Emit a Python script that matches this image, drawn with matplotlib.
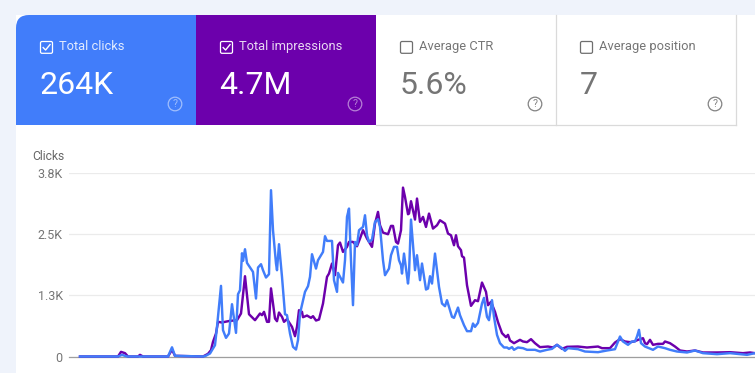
import matplotlib
matplotlib.use("Agg")
import matplotlib.pyplot as plt
from matplotlib.patches import Rectangle, FancyBboxPatch, Circle, PathPatch
from matplotlib.path import Path

plt.rcParams['font.family'] = ['Roboto', 'DejaVu Sans']

# x is a running index along the (unlabelled) time axis
clicks_t = [0, 38, 42, 47, 88, 92, 95, 123, 125, 130, 135, 137, 141, 143, 146, 149, 152, 156, 158, 160, 162, 163, 165, 167, 173, 176, 178, 181, 183, 186, 189, 191, 193, 196, 197, 199, 202, 205, 207, 210, 213, 216, 218, 220, 225, 228, 230, 232, 236, 238, 242, 243, 245, 247, 252, 254, 257, 258, 263, 265, 267, 269, 271, 273, 275, 277, 279, 283, 285, 287, 289, 292, 295, 298, 300, 303, 305, 309, 311, 314, 317, 319, 321, 322, 324, 328, 329, 331, 335, 337, 340, 342, 346, 348, 350, 352, 355, 359, 362, 365, 367, 372, 374, 378, 380, 384, 387, 391, 393, 395, 398, 402, 404, 407, 409, 412, 414, 417, 420, 424, 427, 429, 432, 434, 438, 443, 447, 455, 460, 467, 472, 477, 482, 485, 488, 498, 505, 518, 527, 535, 540, 543, 548, 552, 555, 557, 559, 561, 565, 573, 578, 585, 590, 597, 607, 615, 623, 637, 650, 667, 675]
clicks = [0, 0, 34, 0, 0, 190, 14, 0, 7, 62, 234, 612, 1459, 544, 385, 475, 1080, 488, 1286, 1369, 2132, 1975, 2215, 1933, 1747, 1197, 1837, 1906, 1782, 1631, 1700, 3434, 2608, 1920, 1782, 2319, 1645, 873, 853, 475, 199, 144, 337, 888, 1335, 1452, 1645, 2112, 1816, 1988, 2126, 2160, 2484, 2387, 2387, 1576, 1335, 1727, 1528, 1988, 2883, 3055, 1981, 1060, 2367, 2298, 2608, 2676, 2917, 2504, 2367, 2415, 2780, 2835, 2676, 1988, 1679, 1816, 2092, 2264, 2264, 1988, 1885, 1713, 2126, 1507, 1713, 2828, 1782, 2092, 1576, 1920, 1383, 1404, 1658, 1507, 2126, 1438, 1094, 1039, 1163, 819, 798, 1011, 853, 647, 523, 523, 681, 612, 695, 1094, 1211, 819, 750, 1163, 819, 447, 275, 186, 186, 158, 193, 138, 186, 172, 138, 138, 103, 138, 158, 241, 172, 117, 172, 151, 103, 89, 124, 151, 413, 310, 241, 310, 310, 413, 550, 275, 206, 138, 206, 172, 138, 103, 83, 124, 69, 48, 69, 34, 69]

# impressions as they sit on the shared chart height (own axis is cropped off)
impressions_t = [0, 38, 41, 45, 48, 58, 60, 63, 88, 92, 95, 123, 128, 131, 133, 136, 138, 142, 145, 150, 157, 161, 165, 169, 175, 180, 182, 184, 187, 189, 191, 193, 195, 197, 199, 202, 204, 207, 212, 215, 217, 219, 222, 223, 227, 231, 233, 236, 239, 243, 247, 249, 252, 255, 258, 260, 263, 267, 269, 273, 277, 280, 283, 287, 292, 295, 298, 300, 303, 308, 311, 313, 316, 318, 321, 323, 325, 328, 329, 331, 335, 337, 340, 343, 346, 349, 353, 357, 360, 365, 368, 371, 374, 376, 378, 381, 382, 384, 387, 391, 395, 398, 402, 406, 408, 411, 415, 418, 422, 426, 428, 430, 434, 440, 443, 447, 451, 455, 460, 468, 473, 477, 482, 487, 498, 507, 518, 522, 530, 535, 540, 545, 550, 554, 558, 563, 565, 567, 570, 573, 578, 583, 585, 590, 595, 600, 607, 615, 623, 637, 650, 663, 670, 675]
impressions = [0, 0, 96, 69, 0, 0, 34, 0, 0, 140, 14, 0, 55, 131, 303, 475, 716, 702, 716, 736, 750, 888, 1658, 873, 750, 888, 853, 922, 716, 716, 1407, 1094, 784, 729, 908, 819, 716, 771, 612, 420, 612, 956, 922, 812, 846, 798, 833, 743, 764, 1094, 1644, 1713, 1920, 1679, 2298, 2353, 2160, 2264, 2367, 2367, 2277, 2436, 2608, 2436, 2264, 2745, 2986, 2711, 2559, 2525, 2697, 2697, 2367, 2332, 2608, 3488, 3296, 2938, 2951, 3207, 2828, 3262, 2780, 2883, 2676, 2951, 2642, 2711, 2814, 2745, 2539, 2504, 2298, 2504, 2277, 2195, 2071, 2043, 1472, 1046, 1163, 1142, 1527, 1335, 1060, 1128, 922, 709, 482, 399, 447, 330, 275, 344, 310, 296, 358, 275, 193, 206, 186, 241, 158, 200, 206, 186, 206, 172, 172, 289, 358, 310, 296, 310, 344, 378, 275, 255, 344, 241, 261, 261, 310, 275, 206, 124, 103, 124, 83, 83, 89, 69, 83, 69]

y_ticks = [0, 1267, 2533, 3800]
y_labels = ['0', '1.3K', '2.5K', '3.8K']

card_titles = ['Total clicks', 'Total impressions', 'Average CTR', 'Average position']
card_values = ['264K', '4.7M', '5.6%', '7']
card_lefts = [16, 196, 376, 556]
card_colors = ['#417dfa', '#6c00ac', '#ffffff', '#ffffff']
card_checked = [True, True, False, False]

W, H = 755, 373
fig = plt.figure(figsize=(W / 100, H / 100), dpi=100, facecolor='#eff3fb')

# page chrome, drawn in pixel coordinates
bg = fig.add_axes([0, 0, 1, 1])
bg.set_xlim(0, W)
bg.set_ylim(H, 0)
bg.axis('off')
bg.add_patch(Rectangle((16, 15), W - 16, H - 15, fc='white', ec='none'))
bg.plot([376, 736], [124.5, 124.5], color='#dadada', lw=0.9)
bg.plot([555.5, 555.5], [15, 125], color='#dadada', lw=0.9)
bg.plot([735.5, 735.5], [15, 125], color='#dadada', lw=0.9)

for i in range(4):
    x0 = card_lefts[i]
    if i == 0:
        # only the top-left corner is rounded
        r = 13
        verts = [(x0, 125), (x0, 15 + r), (x0, 15), (x0 + r, 15), (x0 + 180, 15), (x0 + 180, 125), (x0, 125)]
        codes = [Path.MOVETO, Path.LINETO, Path.CURVE3, Path.CURVE3, Path.LINETO, Path.LINETO, Path.CLOSEPOLY]
        bg.add_patch(PathPatch(Path(verts, codes), fc=card_colors[i], ec='none'))
    elif i == 1:
        bg.add_patch(Rectangle((x0, 15), 180, 110, fc=card_colors[i], ec='none'))

    on = card_checked[i]
    text_col = '#ffffff' if on else '#757575'
    box_col = '#ffffff' if on else '#6f6f6f'
    bg.add_patch(FancyBboxPatch((x0 + 24.5, 41.5), 12, 11.8, boxstyle='round,pad=0,rounding_size=1.5',
                                fc='none', ec=box_col, lw=0.9))
    if on:
        bg.plot([x0 + 27.2, x0 + 29.6, x0 + 34], [47.6, 50, 44.6], color='#ffffff', lw=1.0)
    bg.text(x0 + 43, 46.8, card_titles[i], color=text_col, alpha=0.85 if on else 1,
            fontsize=9.25, va='center', ha='left')
    bg.text(x0 + 23.5, 94, card_values[i], color=text_col, fontsize=23, va='baseline', ha='left')
    bg.add_patch(Circle((x0 + 159, 104), 6.8, fc='none', ec=text_col, lw=0.9, alpha=0.5 if on else 0.9))
    bg.text(x0 + 159, 104.3, '?', color=text_col, alpha=0.5 if on else 0.9, fontsize=7.5,
            va='center', ha='center')

# chart
ax = fig.add_axes([69 / W, 1 - 356.5 / H, (W - 69) / W, 184 / H])
ax.patch.set_alpha(0)
ax.set_xlim(-11, 675)
ax.set_ylim(0, 3800)
ax.plot(impressions_t, impressions, color='#6c00ac', lw=1.75, clip_on=False, solid_joinstyle='round', zorder=3)
ax.plot(clicks_t, clicks, color='#417dfa', lw=1.75, clip_on=False, solid_joinstyle='round', zorder=4)

for s in ['top', 'right', 'left']:
    ax.spines[s].set_visible(False)
ax.spines['bottom'].set_color('#9e9e9e')
ax.spines['bottom'].set_linewidth(0.9)
ax.set_xticks([])
ax.set_yticks(y_ticks)
ax.set_yticklabels(y_labels)
ax.tick_params(axis='y', length=0, pad=4.5, labelsize=9, labelcolor='#757575')
ax.grid(axis='y', color='#ebebeb', lw=0.9)
ax.set_axisbelow(True)
ax.text(32, 156, 'Clicks', transform=bg.transData, color='#666666', fontsize=8.7, va='center', ha='left')

fig.savefig('out.png', dpi=100, facecolor=fig.get_facecolor())
